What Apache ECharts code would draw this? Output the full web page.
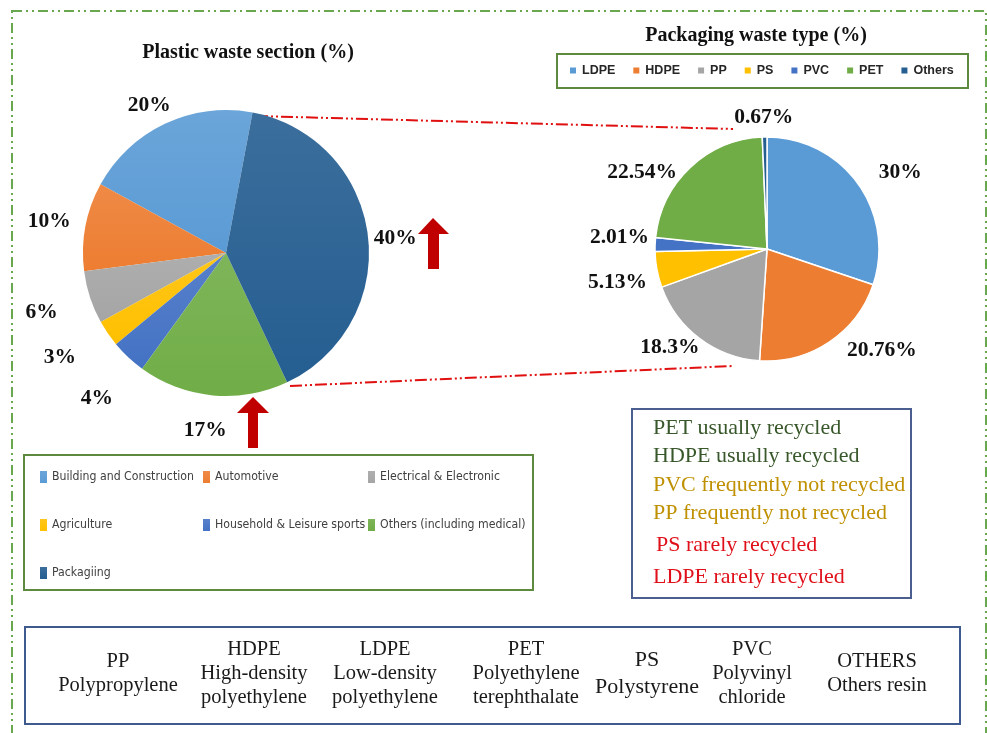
<!DOCTYPE html>
<html lang="en">
<head>
    <meta charset="UTF-8">
    <title>Plastic waste</title>
    <script type="text/javascript" src="https://cdn.jsdelivr.net/npm/echarts@6/dist/echarts.min.js"></script>
    <style>
        html, body { margin: 0; padding: 0; background: #fff; }
        #main { width: 987px; height: 733px; }
    </style>
</head>
<body>
<div id="main"></div>
<script type="text/javascript">
    // left pie: plastic waste by sector (%)
    var sectionNames = ['Building and Construction', 'Automotive', 'Electrical & Electronic',
        'Agriculture', 'Household & Leisure sports', 'Others (including medical)', 'Packagiing'];
    var sectionValues = [20, 10, 6, 3, 4, 17, 40];
    var sectionColors = ['#5b9bd5', '#ed7d31', '#a5a5a5', '#ffc000', '#4472c4', '#70ad47', '#255e91'];

    // right pie: packaging waste by resin type (%)
    var resinNames = ['LDPE', 'HDPE', 'PP', 'PS', 'PVC', 'PET', 'Others'];
    var resinValues = [30, 20.76, 18.3, 5.13, 2.01, 22.54, 0.67];
    var resinColors = ['#5b9bd5', '#ed7d31', '#a5a5a5', '#ffc000', '#4472c4', '#70ad47', '#255e91'];

    // notes box
    var recycleNotes = ['PET usually recycled', 'HDPE usually recycled', 'PVC frequently not recycled',
        'PP frequently not recycled', 'PS rarely recycled', 'LDPE rarely recycled'];
    var recycleColors = ['#38572a', '#38572a', '#bf9000', '#bf9000', '#e0101a', '#e0101a'];

    // resin abbreviations box
    var resinCodes = ['PP', 'HDPE', 'LDPE', 'PET', 'PS', 'PVC', 'OTHERS'];
    var resinFullNames = ['Polypropylene', 'High-density\npolyethylene', 'Low-density\npolyethylene',
        'Polyethylene\nterephthalate', 'Polystyrene', 'Polyvinyl\nchloride', 'Others resin'];

    // small nudges so labels sit like the excel "best fit" ones
    var sectionLabelShift = [[20, -7], [6, -3], [-12, 11], [-13, 17], [2, 32], [24, 23], [-15, 5]];
    var resinLabelShift = [[2, -4], [2, -2], [16, -1], [11, 11], [15, -7], [4, 14], [38, -8]];

    var serif = "'Liberation Serif', 'Times New Roman', serif";
    var narrow = "'Liberation Sans Narrow', 'DejaVu Sans Condensed', sans-serif";

    function shade(hex, amt) {
        var n = parseInt(hex.slice(1), 16);
        var r = Math.round(((n >> 16) & 255) + (255 - ((n >> 16) & 255)) * amt);
        var g = Math.round(((n >> 8) & 255) + (255 - ((n >> 8) & 255)) * amt);
        var b = Math.round((n & 255) + (255 - (n & 255)) * amt);
        return 'rgb(' + r + ',' + g + ',' + b + ')';
    }

    var sectionData = sectionNames.map(function (name, i) {
        return {
            name: name,
            value: sectionValues[i],
            itemStyle: {
                color: new echarts.graphic.LinearGradient(0, 0, 0, 1, [
                    {offset: 0, color: shade(sectionColors[i], 0.1)},
                    {offset: 1, color: sectionColors[i]}
                ])
            }
        };
    });
    var resinData = resinNames.map(function (name, i) {
        return {name: name, value: resinValues[i], itemStyle: {color: resinColors[i]}};
    });

    var labelStyle = {
        show: true,
        position: 'outside',
        formatter: '{c}%',
        fontFamily: serif,
        fontWeight: 'bold',
        fontSize: 21.5,
        color: '#111'
    };

    var graphics = [
        // outer dash-dot frame
        {
            type: 'rect', shape: {x: 12, y: 11, width: 974, height: 740},
            style: {fill: 'none', stroke: '#6aa84f', lineWidth: 2, lineDash: [10, 4, 2, 4, 2, 4]}, silent: true
        },
        // connectors between the two pies
        {
            type: 'line', shape: {x1: 256, y1: 116, x2: 733, y2: 129},
            style: {stroke: '#e01010', lineWidth: 2, lineDash: [12, 3, 2, 3, 2, 3]}
        },
        {
            type: 'line', shape: {x1: 290, y1: 386, x2: 733, y2: 366},
            style: {stroke: '#e01010', lineWidth: 2, lineDash: [12, 3, 2, 3, 2, 3]}
        },
        // red up arrows
        {
            type: 'polygon',
            shape: {points: [[433, 218], [449, 234], [439, 234], [439, 269], [428, 269], [428, 234], [418, 234]]},
            style: {fill: '#c00000'}
        },
        {
            type: 'polygon',
            shape: {points: [[253, 397], [269, 413], [258, 413], [258, 448], [248, 448], [248, 413], [237, 413]]},
            style: {fill: '#c00000'}
        },
        // legend frames
        {
            type: 'rect', shape: {x: 24, y: 455, width: 509, height: 135},
            style: {fill: 'none', stroke: '#5e8a40', lineWidth: 2}
        },
        {
            type: 'rect', shape: {x: 557, y: 54, width: 411, height: 34},
            style: {fill: 'none', stroke: '#5e8a40', lineWidth: 2}
        },
        // notes frame
        {
            type: 'rect', shape: {x: 632, y: 409, width: 279, height: 189},
            style: {fill: 'none', stroke: '#4a5f90', lineWidth: 2}
        },
        // abbreviations frame
        {
            type: 'rect', shape: {x: 25, y: 627, width: 935, height: 97},
            style: {fill: 'none', stroke: '#3f5a8f', lineWidth: 2}
        }
    ];

    var noteY = [428, 456, 485, 513, 545, 577];
    recycleNotes.forEach(function (txt, i) {
        graphics.push({
            type: 'text', x: i === 4 ? 656 : 653, y: noteY[i],
            style: {
                text: txt, fill: recycleColors[i], fontFamily: serif, fontSize: 22,
                align: 'left', verticalAlign: 'middle'
            }
        });
    });

    var codeX = [118, 254, 385, 526, 647, 752, 877];
    resinCodes.forEach(function (code, i) {
        graphics.push({
            type: 'text', x: codeX[i], y: 674,
            style: {
                text: code + '\n' + resinFullNames[i], fill: '#1a1a1a', fontFamily: serif,
                fontSize: code === 'PS' ? 22 : 20.5, lineHeight: code === 'PS' ? 27 : 24,
                align: 'center', verticalAlign: 'middle'
            }
        });
    });

    // left legend is laid out as three columns, like the excel one
    var legendCols = [[0, 3, 6], [1, 4], [2, 5]];
    var legendColX = [40, 203, 368];
    var sectionLegends = legendCols.map(function (col, c) {
        return {
            data: col.map(function (k) { return sectionNames[k]; }),
            orient: 'vertical',
            left: legendColX[c], top: 468,
            padding: 0,
            itemGap: 30,
            itemWidth: 7, itemHeight: 12,
            icon: 'rect',
            textStyle: {fontFamily: narrow, fontSize: 12.2, lineHeight: 18, color: '#404040'}
        };
    });

    var myChart = echarts.init(document.getElementById('main'), null, {renderer: 'canvas'});
    myChart.setOption({
        animation: false,
        title: [{
            text: 'Plastic waste section (%)',
            left: 243, top: 38, textAlign: 'center',
            textStyle: {fontFamily: serif, fontWeight: 'bold', fontSize: 20, color: '#111'}
        }, {
            text: 'Packaging waste type (%)',
            left: 751, top: 21, textAlign: 'center',
            textStyle: {fontFamily: serif, fontWeight: 'bold', fontSize: 20, color: '#111'}
        }],
        legend: sectionLegends.concat([{
            data: resinNames,
            left: 568, top: 64,
            padding: 0,
            itemGap: 16,
            itemWidth: 8, itemHeight: 8,
            icon: 'rect',
            textStyle: {
                fontFamily: "'Liberation Sans', Arial, sans-serif",
                fontWeight: 'bold', fontSize: 12.5, color: '#262626'
            }
        }]),
        series: [{
            name: 'Plastic waste section',
            type: 'pie',
            center: [226, 253],
            radius: 143,
            clockwise: false,
            startAngle: 79.3,
            avoidLabelOverlap: false,
            label: labelStyle,
            labelLine: {show: false, length: 12, length2: 4},
            labelLayout: function (p) {
                var s = sectionLabelShift[p.dataIndex];
                return {dx: s[0], dy: s[1]};
            },
            emphasis: {disabled: true},
            data: sectionData
        }, {
            name: 'Packaging waste type',
            type: 'pie',
            center: [767, 249],
            radius: 112,
            startAngle: 90,
            avoidLabelOverlap: false,
            itemStyle: {borderColor: '#fff', borderWidth: 1.5},
            label: labelStyle,
            labelLine: {show: false, length: 12, length2: 4},
            labelLayout: function (p) {
                var s = resinLabelShift[p.dataIndex];
                return {dx: s[0], dy: s[1]};
            },
            emphasis: {disabled: true},
            data: resinData
        }],
        graphic: graphics
    });
</script>
</body>
</html>
